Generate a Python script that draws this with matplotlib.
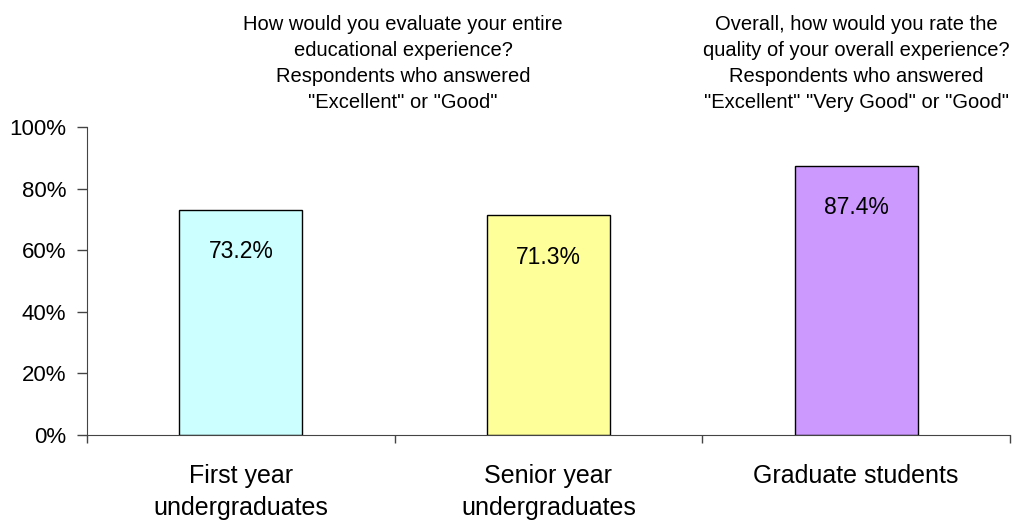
import matplotlib.pyplot as plt
import numpy as np

categories = ["First year\nundergraduates", "Senior year\nundergraduates", "Graduate students"]
values = [73.2, 71.3, 87.4]
value_labels = ["73.2%", "71.3%", "87.4%"]
colors = ["#CCFFFF", "#FFFF99", "#CC99FF"]
y_ticks = [0, 20, 40, 60, 80, 100]
y_tick_labels = ["0%", "20%", "40%", "60%", "80%", "100%"]
note_left = ('How would you evaluate your entire\neducational experience?\n'
             'Respondents who answered\n"Excellent" or "Good"')
note_right = ('Overall, how would you rate the\nquality of your overall experience?\n'
              'Respondents who answered\n"Excellent" "Very Good" or "Good"')

plt.rcParams['font.family'] = ['Liberation Sans', 'DejaVu Sans']

fig = plt.figure(figsize=(10.18, 5.27), dpi=100)
ax = fig.add_axes([0.0855, 0.1746, 0.9065, 0.5844])

x = np.arange(len(categories))
ax.bar(x, values, width=0.4, color=colors, edgecolor='black', linewidth=1)

for xi, v, lab in zip(x, values, value_labels):
    ax.annotate(lab, (xi, v), xytext=(0, -30), textcoords='offset points',
                ha='center', va='center', fontsize=16.5)

ax.set_xlim(-0.5, 2.5)
ax.set_ylim(0, 100)
ax.set_yticks(y_ticks)
ax.set_yticklabels(y_tick_labels, fontsize=16)
ax.tick_params(axis='y', length=7, width=1, pad=8, color='#444444')

# boundary ticks on x axis, category labels centred between them
ax.set_xticks([-0.5, 0.5, 1.5, 2.5])
ax.set_xticklabels([])
ax.tick_params(axis='x', which='major', length=6, width=1, color='#444444')
ax.set_xticks(x, minor=True)
ax.set_xticklabels(categories, minor=True, fontsize=18, linespacing=1.42)
ax.tick_params(axis='x', which='minor', length=0, pad=21)

for s in ['top', 'right']:
    ax.spines[s].set_visible(False)
for s in ['left', 'bottom']:
    ax.spines[s].set_color('#444444')

ax.text(0.527, 105, note_left, ha='center', va='bottom', fontsize=14.5,
        linespacing=1.45, clip_on=False)
ax.text(2.0, 105, note_right, ha='center', va='bottom', fontsize=14.5,
        linespacing=1.45, clip_on=False)

fig.savefig('out.png', dpi=100)
